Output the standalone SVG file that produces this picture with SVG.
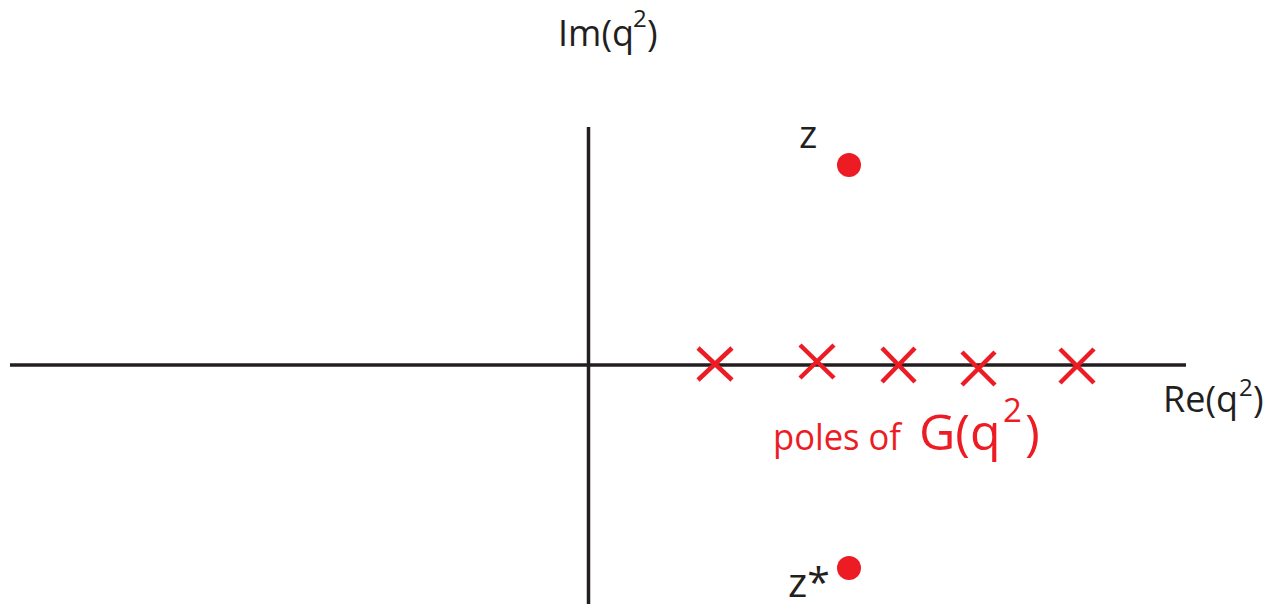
<svg xmlns="http://www.w3.org/2000/svg" width="1274" height="609" viewBox="0 0 1274 609">
<style>
.axis{stroke:#231f20;stroke-width:3.5;fill:none}
.cross{stroke:#ed1c24;stroke-width:4.5;fill:none}
.dot{fill:#ed1c24}
.lbl{font-family:"Open Sans","Liberation Sans",sans-serif;fill:#231f20}
.red{font-family:"Open Sans","Liberation Sans",sans-serif;fill:#ed1c24}
</style>
<rect width="1274" height="609" fill="#ffffff"/>
<g id="axes">
<line class="axis" x1="10" y1="365" x2="1186" y2="365"/>
<line class="axis" x1="588.5" y1="127" x2="588.5" y2="604"/>
</g>
<g id="label-im">
<text class="lbl" font-size="36"><tspan x="558" y="46">Im(q</tspan><tspan x="633" y="27" font-size="24">2</tspan><tspan x="647" y="46">)</tspan></text>
</g>
<g id="label-re">
<text class="lbl" font-size="36"><tspan x="1163" y="412">Re(q</tspan><tspan x="1239" y="396" font-size="24">2</tspan><tspan x="1253" y="412">)</tspan></text>
</g>
<g id="pole-z">
<circle class="dot" cx="849" cy="165" r="12"/>
<text class="lbl" font-size="39" x="799" y="148">z</text>
</g>
<g id="pole-zstar">
<circle class="dot" cx="849" cy="568" r="12"/>
<text class="lbl" font-size="41" x="788" y="597">z*</text>
</g>
<g id="poles">
<path class="cross" d="M698 348L732 380M732 348L698 380"/>
<path class="cross" d="M800 345L834 378M834 345L800 378"/>
<path class="cross" d="M882 348L915 382M915 348L882 382"/>
<path class="cross" d="M962 352L995 385M995 352L962 385"/>
<path class="cross" d="M1060 349L1094 383M1094 349L1060 383"/>
</g>
<g id="label-poles">
<text class="red" font-size="37" x="773" y="450" textLength="128" lengthAdjust="spacingAndGlyphs">poles of</text>
<text class="red" font-size="50"><tspan x="919" y="450">G(q</tspan><tspan x="1003" y="422" font-size="33">2</tspan><tspan x="1025" y="450">)</tspan></text>
</g>
</svg>
